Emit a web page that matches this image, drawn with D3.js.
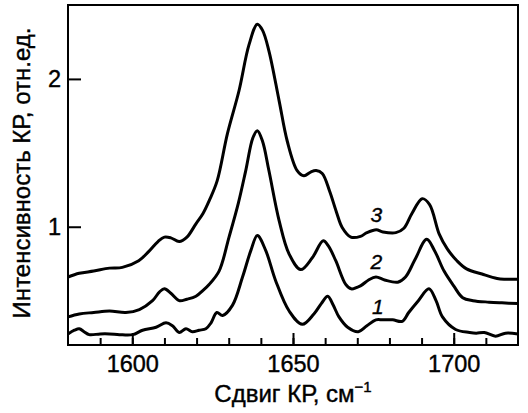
<!DOCTYPE html>
<html>
<head>
<meta charset="utf-8">
<script src="https://cdn.jsdelivr.net/npm/d3@7"></script>
<style>
  body { margin: 0; background: #fff; }
  svg text { font-family: "Liberation Sans", Arial, sans-serif; fill: #000; stroke: #000; stroke-width: 0.4px; }
</style>
</head>
<body>
<div id="chart"></div>
<script>
// Raman spectra, amide I region, three samples (1, 2, 3)
var shift1 = [1580, 1582, 1583.5, 1585, 1586.6, 1590, 1592.9, 1596, 1600.1, 1603.2, 1607.4, 1610.5, 1612.5, 1614.6, 1616.7, 1618.7, 1620.8, 1622.9, 1624.5, 1626.3, 1628.1, 1631.2, 1634.3, 1636.9, 1638.9, 1641.5, 1644.6, 1648.8, 1652.9, 1656.5, 1658.8, 1660.8, 1662.5, 1664.3, 1667, 1670.3, 1673, 1675.8, 1678, 1681, 1684, 1686, 1689, 1692.3, 1694.5, 1696.5, 1700.6, 1704.9, 1707, 1709.5, 1713, 1716.1, 1720];
var int1 = [0.275, 0.30, 0.31, 0.29, 0.27, 0.275, 0.275, 0.27, 0.27, 0.30, 0.32, 0.35, 0.33, 0.285, 0.31, 0.29, 0.30, 0.31, 0.35, 0.42, 0.40, 0.47, 0.66, 0.84, 0.94, 0.84, 0.635, 0.43, 0.34, 0.41, 0.48, 0.53, 0.47, 0.39, 0.32, 0.29, 0.33, 0.37, 0.37, 0.37, 0.36, 0.42, 0.50, 0.58, 0.50, 0.39, 0.305, 0.285, 0.28, 0.285, 0.26, 0.28, 0.275];

var shift2 = [1580, 1583.5, 1588, 1592.9, 1598, 1602.2, 1606.3, 1608.5, 1610, 1612, 1614.6, 1617, 1619.8, 1622, 1623.9, 1627, 1630.1, 1633, 1635.3, 1637.5, 1638.9, 1640.5, 1642.5, 1645.7, 1648.8, 1652.4, 1656, 1659.4, 1661, 1663.3, 1666.4, 1668.1, 1671, 1673.5, 1675.8, 1678.5, 1682.6, 1685, 1688, 1691.6, 1694, 1697, 1700, 1702.8, 1706, 1711, 1715, 1720];
var int2 = [0.39, 0.41, 0.42, 0.43, 0.42, 0.44, 0.50, 0.56, 0.58, 0.55, 0.50, 0.51, 0.53, 0.57, 0.61, 0.70, 0.93, 1.16, 1.38, 1.60, 1.65, 1.58, 1.38, 1.04, 0.815, 0.71, 0.79, 0.905, 0.87, 0.77, 0.61, 0.58, 0.60, 0.64, 0.66, 0.64, 0.625, 0.66, 0.78, 0.915, 0.84, 0.70, 0.60, 0.52, 0.50, 0.49, 0.485, 0.48];

var shift3 = [1580, 1583.5, 1588, 1592.9, 1596.9, 1602, 1605, 1608, 1610, 1612, 1614.6, 1617, 1619.8, 1622, 1624, 1626.4, 1629.6, 1633.2, 1636.3, 1638.9, 1640.5, 1642.5, 1645.7, 1648.2, 1651.3, 1653.4, 1655.5, 1657.2, 1659.1, 1661.4, 1663.5, 1665.3, 1668, 1671, 1673, 1675.9, 1678, 1682, 1684.5, 1687, 1690.2, 1692.5, 1695.5, 1698, 1701, 1704, 1708.8, 1713.5, 1716, 1720];
var int3 = [0.66, 0.685, 0.70, 0.72, 0.725, 0.77, 0.83, 0.90, 0.93, 0.925, 0.90, 0.93, 1.02, 1.09, 1.18, 1.31, 1.63, 1.92, 2.23, 2.37, 2.33, 2.19, 1.85, 1.58, 1.38, 1.345, 1.37, 1.38, 1.36, 1.24, 1.10, 0.995, 0.93, 0.935, 0.96, 0.98, 0.965, 0.96, 0.99, 1.09, 1.19, 1.15, 0.95, 0.85, 0.77, 0.715, 0.68, 0.65, 0.645, 0.645];

// curve numbers written next to the spectra (shift, intensity of baseline)
var curveNames = ["1", "2", "3"];
var nameShift = [1676.4, 1675.9, 1675.9];
var nameInt = [0.41, 0.714, 1.03];

var majorTicks = [1600, 1650, 1700];
var yTicks = [1, 2];

var margin = { top: 5, right: 10, bottom: 68, left: 68 },
    width = 528 - margin.left - margin.right,
    height = 413 - margin.top - margin.bottom;

var svg = d3.select("#chart").append("svg")
    .attr("width", width + margin.left + margin.right)
    .attr("height", height + margin.top + margin.bottom)
  .append("g")
    .attr("transform", "translate(" + margin.left + "," + margin.top + ")");

var x = d3.scaleLinear().domain([1580, 1720]).range([0, width]);
var y = d3.scaleLinear().domain([0.2, 2.5]).range([height, 0]);

// minor ticks every 10 cm-1, pointing inward
svg.append("g")
    .attr("transform", "translate(0," + height + ")")
    .call(d3.axisBottom(x).tickValues(d3.range(1590, 1720, 10)).tickSize(-7).tickFormat(""))
    .call(g => g.select(".domain").remove())
    .call(g => g.selectAll("line").attr("stroke-width", 2));

// major ticks with labels
svg.append("g")
    .attr("transform", "translate(0," + height + ")")
    .call(d3.axisBottom(x).tickValues(majorTicks).tickSize(-12).tickPadding(10).tickFormat(d3.format("d")))
    .call(g => g.select(".domain").remove())
    .call(g => g.selectAll("line").attr("stroke-width", 2))
    .call(g => g.selectAll("text").attr("font-size", 23.5).attr("font-family", null));

svg.append("g")
    .call(d3.axisLeft(y).tickValues(yTicks).tickSize(-13).tickPadding(7).tickFormat(d3.format("d")))
    .call(g => g.select(".domain").remove())
    .call(g => g.selectAll("line").attr("stroke-width", 2))
    .call(g => g.selectAll("text").attr("font-size", 23.5).attr("font-family", null));

// frame
svg.append("rect")
    .attr("x", 0).attr("y", 0)
    .attr("width", width).attr("height", height)
    .attr("fill", "none")
    .attr("stroke", "#000")
    .attr("stroke-width", 2);

var line = d3.line()
    .x(d => x(d[0]))
    .y(d => y(d[1]))
    .curve(d3.curveCatmullRom.alpha(0.5));

[[shift1, int1], [shift2, int2], [shift3, int3]].forEach(function (s) {
    svg.append("path")
        .datum(d3.zip(s[0], s[1]))
        .attr("fill", "none")
        .attr("stroke", "#000")
        .attr("stroke-width", 3)
        .attr("stroke-linejoin", "round")
        .attr("d", line);
});

svg.selectAll(".cname")
    .data(curveNames)
    .enter().append("text")
    .attr("class", "cname")
    .attr("x", (d, i) => x(nameShift[i]))
    .attr("y", (d, i) => y(nameInt[i]))
    .attr("text-anchor", "middle")
    .attr("font-size", 21)
    .attr("font-style", "italic")
    .text(d => d);

// axis titles
var xt = svg.append("text")
    .attr("x", width / 2)
    .attr("y", height + 57)
    .attr("text-anchor", "middle")
    .attr("font-size", 24);
xt.append("tspan").text("Сдвиг КР, см");
xt.append("tspan").attr("font-size", 15).attr("dy", -10).text("−1");

svg.append("text")
    .attr("transform", "rotate(-90)")
    .attr("x", -168)
    .attr("y", -38)
    .attr("text-anchor", "middle")
    .attr("font-size", 24)
    .text("Интенсивность КР, отн.ед.");
</script>
</body>
</html>
